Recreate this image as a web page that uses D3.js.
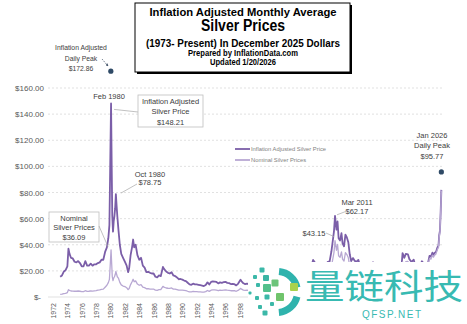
<!DOCTYPE html>
<html>
<head>
<meta charset="utf-8">
<script src="https://cdn.jsdelivr.net/npm/d3@7"></script>
<style>
  body { margin: 0; background: #fff; }
  svg { display: block; font-family: "Liberation Sans", Arial, sans-serif; }
  .axis text { fill: #595959; }
  .note { fill: #404040; font-size: 7.5px; }
</style>
</head>
<body>
<div id="chart"></div>
<script>
// monthly average samples (decimal year)
var dates = [
  1973.0, 1973.25, 1973.5, 1973.75,
  1974.0, 1974.15, 1974.3, 1974.5, 1974.75,
  1975.0, 1975.25, 1975.5, 1975.75,
  1976.0, 1976.25, 1976.5, 1976.75,
  1977.0, 1977.25, 1977.5, 1977.75,
  1978.0, 1978.25, 1978.5, 1978.75,
  1979.0, 1979.25, 1979.5, 1979.7, 1979.85, 1979.95,
  1980.08, 1980.17, 1980.25, 1980.35, 1980.45, 1980.55, 1980.65, 1980.75, 1980.85, 1980.95,
  1981.1, 1981.3, 1981.5, 1981.75,
  1982.0, 1982.25, 1982.45, 1982.6, 1982.8,
  1983.0, 1983.15, 1983.3, 1983.5, 1983.75,
  1984.0, 1984.25, 1984.5, 1984.75,
  1985.0, 1985.25, 1985.5, 1985.75,
  1986.0, 1986.25, 1986.5, 1986.75,
  1987.0, 1987.3, 1987.45, 1987.75,
  1988.0, 1988.25, 1988.5, 1988.75,
  1989.0, 1989.25, 1989.5, 1989.75,
  1990.0, 1990.25, 1990.5, 1990.75,
  1991.0, 1991.25, 1991.5, 1991.75,
  1992.0, 1992.25, 1992.5, 1992.75,
  1993.0, 1993.25, 1993.5, 1993.75,
  1994.0, 1994.25, 1994.5, 1994.75,
  1995.0, 1995.25, 1995.5, 1995.75,
  1996.0, 1996.25, 1996.5, 1996.75,
  1997.0, 1997.25, 1997.5, 1997.75,
  1998.1, 1998.25, 1998.5, 1998.75,
  1999.0, 1999.25, 1999.5, 1999.75,
  2000.0, 2000.5, 2001.0, 2001.5, 2002.0, 2002.5, 2003.0, 2003.5,
  2004.0, 2004.3, 2004.5, 2004.75,
  2005.0, 2005.5, 2005.75,
  2006.0, 2006.35, 2006.5, 2006.75,
  2007.0, 2007.5, 2007.8,
  2008.0, 2008.2, 2008.5, 2008.75, 2008.9,
  2009.0, 2009.25, 2009.5, 2009.75,
  2010.0, 2010.25, 2010.5, 2010.75, 2010.95,
  2011.1, 2011.25, 2011.45, 2011.6, 2011.75, 2011.95,
  2012.15, 2012.3, 2012.5, 2012.7, 2012.9,
  2013.1, 2013.3, 2013.5, 2013.75,
  2014.0, 2014.25, 2014.5, 2014.75,
  2015.0, 2015.25, 2015.5, 2015.75,
  2016.0, 2016.3, 2016.55, 2016.75,
  2017.0, 2017.25, 2017.5, 2017.75,
  2018.0, 2018.5, 2018.75,
  2019.0, 2019.5, 2019.75,
  2020.0, 2020.25, 2020.5, 2020.65, 2020.9,
  2021.1, 2021.4, 2021.6, 2021.9,
  2022.2, 2022.5, 2022.7, 2022.9,
  2023.1, 2023.35, 2023.6, 2023.8,
  2024.0, 2024.2, 2024.4, 2024.6, 2024.8, 2024.95,
  2025.1, 2025.3, 2025.5, 2025.65, 2025.75, 2025.85, 2025.95,
  2026.05
];

// inflation adjusted, December 2025 dollars
var adjusted = [
  15.5, 16.5, 19.5, 20.5,
  23.5, 37, 33, 30, 29.5,
  27, 26.5, 27.5, 26,
  23.5, 23.5, 27.5, 24,
  24, 25.5, 24, 25,
  25, 26, 26.5, 28.5,
  28.5, 34.5, 38, 45, 55, 95,
  148.21, 100, 62, 50, 58, 62, 68, 78.75, 70, 62,
  52, 40, 33, 30,
  27, 24, 19, 22, 32,
  38, 44, 38, 40, 32,
  28.5, 30, 24, 22.5,
  19, 19.3, 18.5, 18,
  18, 15.5, 15, 16.5,
  16, 23, 21.5, 19.5,
  18.5, 18, 19, 16.5,
  16, 15, 13.6, 13.8,
  13.3, 12.6, 12.2, 10.9,
  9.7, 9.3, 10.2, 9.7,
  9.6, 9.3, 9.0, 8.7,
  8.4, 9.2, 11.2, 9.6,
  11.5, 11.9, 11.8, 11.5,
  10.4, 11.2, 10.9, 11.3,
  11.6, 10.8, 10.6, 9.9,
  10.0, 9.8, 8.9, 10.1,
  13.2, 12.0, 10.5, 9.9,
  10.2, 9.8, 10.1, 10.0,
  10.0, 9.3, 8.5, 7.9, 8.2, 8.6, 8.5, 8.2,
  10.7, 13.0, 10.3, 11.9,
  11.5, 12.0, 12.4,
  14.6, 20.8, 18.0, 20.0,
  20.8, 19.9, 22.1,
  24.4, 28.4, 26.0, 15.8, 15.2,
  17.4, 18.9, 21.4, 26.0,
  25.1, 26.9, 27.3, 35.0, 43.6,
  50, 62.17, 51.5, 57.8, 45, 43.3,
  48.8, 41, 38.8, 47.8, 45.6,
  41.9, 32.7, 27.5, 29.8,
  27.6, 27, 28.4, 23.3,
  22.3, 22.4, 20.5, 20.5,
  19.4, 22.3, 26.6, 23.3,
  23.0, 23.3, 21.1, 22.1,
  21.7, 20.0, 18.7,
  20.0, 20.3, 22.2,
  22.4, 18.6, 23.2, 33.6, 30.0,
  33.0, 32.6, 29.0, 26.8,
  28.6, 22.4, 21.2, 25.2,
  24.3, 27.4, 25.6, 24.4,
  24.9, 26.3, 31.5, 30.9, 33.9, 32.3,
  33.7, 34.5, 37.9, 39.3, 47.4, 50.6, 64.6,
  82
];

// nominal price
var nominal = [
  2.05, 2.2, 2.65, 2.8,
  3.4, 5.6, 5.0, 4.6, 4.5,
  4.4, 4.4, 4.6, 4.4,
  4.1, 4.1, 4.8, 4.3,
  4.4, 4.7, 4.5, 4.7,
  4.9, 5.2, 5.4, 5.9,
  6.0, 7.5, 9.0, 11, 13.5, 23,
  36.09, 25, 15.5, 12.5, 14.5, 15.5, 17, 19.5, 17.5, 15.5,
  14.5, 11.2, 9.3, 8.4,
  8.0, 7.1, 5.6, 6.5, 9.5,
  11.7, 13.6, 11.7, 12.3, 9.9,
  9.0, 9.5, 7.6, 7.2,
  6.3, 6.4, 6.1, 6.0,
  6.1, 5.2, 5.1, 5.6,
  5.6, 8.1, 7.6, 6.9,
  6.7, 6.6, 6.9, 6.0,
  6.1, 5.7, 5.2, 5.3,
  5.3, 5.1, 4.9, 4.4,
  4.0, 3.9, 4.3, 4.1,
  4.1, 4.0, 3.9, 3.8,
  3.7, 4.1, 5.0, 4.3,
  5.2, 5.4, 5.4, 5.3,
  4.8, 5.2, 5.1, 5.3,
  5.5, 5.2, 5.1, 4.8,
  4.9, 4.8, 4.4, 5.0,
  6.6, 6.0, 5.3, 5.0,
  5.2, 5.0, 5.2, 5.2,
  5.3, 4.95, 4.6, 4.3, 4.5, 4.8, 4.8, 4.7,
  6.2, 7.6, 6.0, 7.0,
  6.8, 7.2, 7.5,
  9.0, 13.0, 11.2, 12.5,
  13.2, 12.8, 14.3,
  16.0, 18.9, 17.5, 10.5, 10.0,
  11.5, 12.5, 14.2, 17.3,
  16.8, 18.0, 18.3, 23.5, 29.4,
  34, 43.15, 35.8, 40.3, 31.5, 30.4,
  34.5, 29, 27.5, 34, 32.5,
  30, 23.5, 19.8, 21.5,
  20, 19.7, 20.8, 17.0,
  16.2, 16.4, 15.0, 15.0,
  14.2, 16.5, 19.8, 17.3,
  17.2, 17.6, 16.0, 16.8,
  16.6, 15.5, 14.5,
  15.6, 16.0, 17.5,
  17.8, 14.8, 18.5, 26.9, 24.0,
  27.0, 27.2, 24.5, 23.0,
  25.0, 20.0, 19.0, 22.7,
  22.0, 25.0, 23.5, 22.5,
  23.0, 24.5, 29.5, 29.0, 32.0, 30.5,
  32.0, 33.0, 36.5, 38.0, 46.0, 49.5, 64.0,
  81.5
];

var yTicks = [0, 20, 40, 60, 80, 100, 120, 140, 160];
var xTicks = d3.range(1972, 2027, 2);
var seriesNames = ["Inflation Adjusted Silver Price", "Nominal Silver Prices"];

// daily peaks shown as dots
var peakDates = [1980.05, 2026.05];
var peakValues = [172.86, 95.77];

var width = 467, height = 324;
var colors = ["#7b5ea8", "#b8a8d3"];

var svg = d3.select("#chart").append("svg")
    .attr("width", width)
    .attr("height", height);

var x = d3.scaleLinear().domain([1972, 2026]).range([53, 441]);
var y = d3.scaleLinear().domain([0, 160]).range([297, 88]);

// gridlines
svg.append("g").selectAll("line")
    .data(yTicks)
    .join("line")
    .attr("x1", 48).attr("x2", 443)
    .attr("y1", function(d) { return y(d); })
    .attr("y2", function(d) { return y(d); })
    .attr("stroke", "#d9d9d9")
    .attr("stroke-width", 0.8)
    .attr("stroke-dasharray", function(d) { return d === 0 ? null : "2,2"; });

// y axis
var yAxis = svg.append("g")
    .attr("class", "axis")
    .attr("transform", "translate(48,0)")
    .call(d3.axisLeft(y).tickValues(yTicks).tickSize(0).tickPadding(4)
      .tickFormat(function(d) { return d === 0 ? "$-" : "$" + d.toFixed(2); }));
yAxis.select(".domain").remove();
yAxis.selectAll("text").style("font-size", "8px");
yAxis.selectAll("text").filter(function(d) { return d === 0; }).attr("dx", -3);

// x axis, rotated labels
var xAxis = svg.append("g")
    .attr("class", "axis")
    .attr("transform", "translate(0," + y(0) + ")")
    .call(d3.axisBottom(x).tickValues(xTicks).tickSize(0).tickFormat(d3.format("d")));
xAxis.select(".domain").remove();
xAxis.selectAll("text")
    .style("font-size", "7px")
    .style("text-anchor", "end")
    .attr("transform", "rotate(-90)")
    .attr("x", -6)
    .attr("y", 0)
    .attr("dy", "0.35em");

// lines
var idx = d3.range(dates.length);
[adjusted, nominal].forEach(function(vals, i) {
  var line = d3.line()
      .x(function(j) { return x(dates[j]); })
      .y(function(j) { return y(vals[j]); });
  svg.append("path")
      .datum(idx)
      .attr("fill", "none")
      .attr("stroke", colors[i])
      .attr("stroke-width", i === 0 ? 1.8 : 1.3)
      .attr("stroke-linejoin", "round")
      .attr("d", line);
});

// legend
var legend = svg.append("g").attr("transform", "translate(235,149)");
seriesNames.forEach(function(name, i) {
  legend.append("line")
      .attr("x1", 0).attr("x2", 15)
      .attr("y1", i * 11).attr("y2", i * 11)
      .attr("stroke", colors[i])
      .attr("stroke-width", 1.8);
  legend.append("text")
      .attr("x", 16).attr("y", i * 11)
      .attr("dy", "0.35em")
      .attr("fill", "#7f7f7f")
      .style("font-size", "5.8px")
      .text(name);
});

// daily peak dots
svg.append("g").selectAll("circle")
    .data(peakDates)
    .join("circle")
    .attr("cx", function(d) { return x(d); })
    .attr("cy", function(d, i) { return y(peakValues[i]); })
    .attr("r", 2.6)
    .attr("fill", "#2f4a66");

// annotations
function label(lines, cx, cy, step, fill, weight) {
  var t = svg.append("text")
      .attr("class", "note")
      .attr("text-anchor", "middle")
      .attr("fill", fill || "#404040")
      .style("font-weight", weight || "normal");
  lines.forEach(function(s, i) {
    t.append("tspan").attr("x", cx).attr("y", cy + i * step).attr("dy", "0.35em").text(s);
  });
  return t;
}
function connector(x1, y1, x2, y2) {
  svg.append("line")
      .attr("x1", x1).attr("y1", y1).attr("x2", x2).attr("y2", y2)
      .attr("stroke", "#a6a6a6").attr("stroke-width", 0.7);
}
function box(x0, y0, w, h) {
  svg.append("rect")
      .attr("x", x0).attr("y", y0).attr("width", w).attr("height", h)
      .attr("fill", "#fff").attr("stroke", "#bfbfbf").attr("stroke-width", 0.8);
}

var feb80 = [x(1980.08), y(148.21)];
label(["Feb 1980"], 109, 96, 0, "#000");
connector(feb80[0] + 3, feb80[1] + 6, 138, 112);
box(138, 95, 65, 32);
label(["Inflation Adjusted", "Silver Price", "$" + adjusted[31].toFixed(2)], 170.5, 101, 10.5, "#595959");

var oct80 = [x(1980.75), y(78.75)];
connector(oct80[0] + 5, oct80[1] - 1, 137, 184);
label(["Oct 1980", "$78.75"], 150, 174, 8.5, "#262626");

box(49, 212, 50, 30);
label(["Nominal", "Silver Prices", "$" + nominal[31].toFixed(2)], 74, 218, 9.5, "#595959");
connector(99, 226, x(1980.08) - 3, y(36.09) - 3);

label(["Mar 2011"], 357, 202, 0, "#000");
label(["$62.17"], 357, 211, 0, "#595959");
connector(347, 211, x(2011.25) + 2, y(62.17) - 1);
label(["$43.15"], 314, 233, 0, "#595959");
connector(326, 233, x(2011.25) - 1, y(43.15) - 4);

label(["Jan 2026", "Daily Peak", "$95.77"], 432, 135, 10.5, "#404040");

label(["Inflation Adjusted", "Daily Peak", "$172.86"], 81, 48, 10.2, "#44546a").style("font-size", "6.8px");
svg.append("defs").append("marker")
    .attr("id", "arr").attr("viewBox", "0 0 6 6").attr("refX", 5).attr("refY", 3)
    .attr("markerWidth", 4).attr("markerHeight", 4).attr("orient", "auto")
  .append("path").attr("d", "M0,0L6,3L0,6Z").attr("fill", "#44546a");
svg.append("line")
    .attr("x1", 102).attr("y1", 59).attr("x2", 108).attr("y2", 66)
    .attr("stroke", "#44546a").attr("stroke-width", 0.7)
    .attr("stroke-dasharray", "1.5,1")
    .attr("marker-end", "url(#arr)");

// title box
svg.append("rect").attr("x", 137).attr("y", 5).attr("width", 215).attr("height", 69).attr("fill", "#000");
svg.append("rect").attr("x", 135).attr("y", 3).attr("width", 215).attr("height", 69)
    .attr("fill", "#fff").attr("stroke", "#000").attr("stroke-width", 1);
var titleLines = [
  ["Inflation  Adjusted  Monthly  Average", 16, 11, 187],
  ["Silver Prices", 31, 16, 84],
  ["(1973- Present) In December 2025 Dollars", 47, 11.5, 194],
  ["Prepared by InflationData.com", 56, 8.5, 110],
  ["Updated 1/20/2026", 64.5, 8.5, 66]
];
titleLines.forEach(function(t) {
  svg.append("text")
      .attr("x", 243 - t[3] / 2).attr("y", t[1])
      .attr("textLength", t[3]).attr("lengthAdjust", "spacingAndGlyphs")
      .style("font-weight", "bold").style("font-size", t[2] + "px")
      .attr("fill", "#000")
      .text(t[0]);
});

// watermark overlay
var wm = svg.append("g");
wm.append("rect").attr("x", 248).attr("y", 262).attr("width", 219).attr("height", 62).attr("fill", "#fff");
var ring = d3.arc().innerRadius(17).outerRadius(24);
[[0.1, 1.35], [1.8, 3.05]].forEach(function(a) {
  wm.append("path")
      .attr("transform", "translate(277,292)")
      .attr("d", ring({startAngle: a[0], endAngle: a[1]}))
      .attr("fill", "#2fb3ad");
});
var dots = [
  [262, 270, 5, "#3bb8a8"], [255, 277, 4, "#3bb8a8"], [266, 278, 6, "#3ab5a4"],
  [258, 285, 4, "#3bb8a8"], [267, 288, 8, "#54c08c"], [275, 283, 7, "#6cc47a"],
  [294, 287, 8, "#a9d24c"], [280, 297, 8, "#70c46c"], [267, 297, 5, "#3bb8a8"],
  [257, 298, 4, "#3bb8a8"], [250, 293, 3, "#3bb8a8"], [272, 304, 4, "#3bb8a8"],
  [260, 307, 4, "#3bb8a8"], [265, 313, 5, "#3bb8a8"]
];
wm.selectAll("rect.sq").data(dots).join("rect")
    .attr("class", "sq")
    .attr("x", function(d) { return d[0] - d[2] / 2; })
    .attr("y", function(d) { return d[1] - d[2] / 2; })
    .attr("width", function(d) { return d[2]; })
    .attr("height", function(d) { return d[2]; })
    .attr("rx", 1)
    .attr("fill", function(d) { return d[3]; });
wm.append("text")
    .attr("x", 305).attr("y", 299)
    .attr("textLength", 158).attr("lengthAdjust", "spacingAndGlyphs")
    .style("font-family", "'Noto Sans CJK SC', sans-serif")
    .style("font-size", "34px")
    .attr("fill", "#38bab2")
    .text("量链科技");
wm.append("text")
    .attr("x", 362).attr("y", 318)
    .attr("textLength", 62)
    .style("font-size", "10px")
    .style("letter-spacing", "3px")
    .attr("fill", "#38bab2")
    .text("QFSP.NET");
</script>
</body>
</html>
